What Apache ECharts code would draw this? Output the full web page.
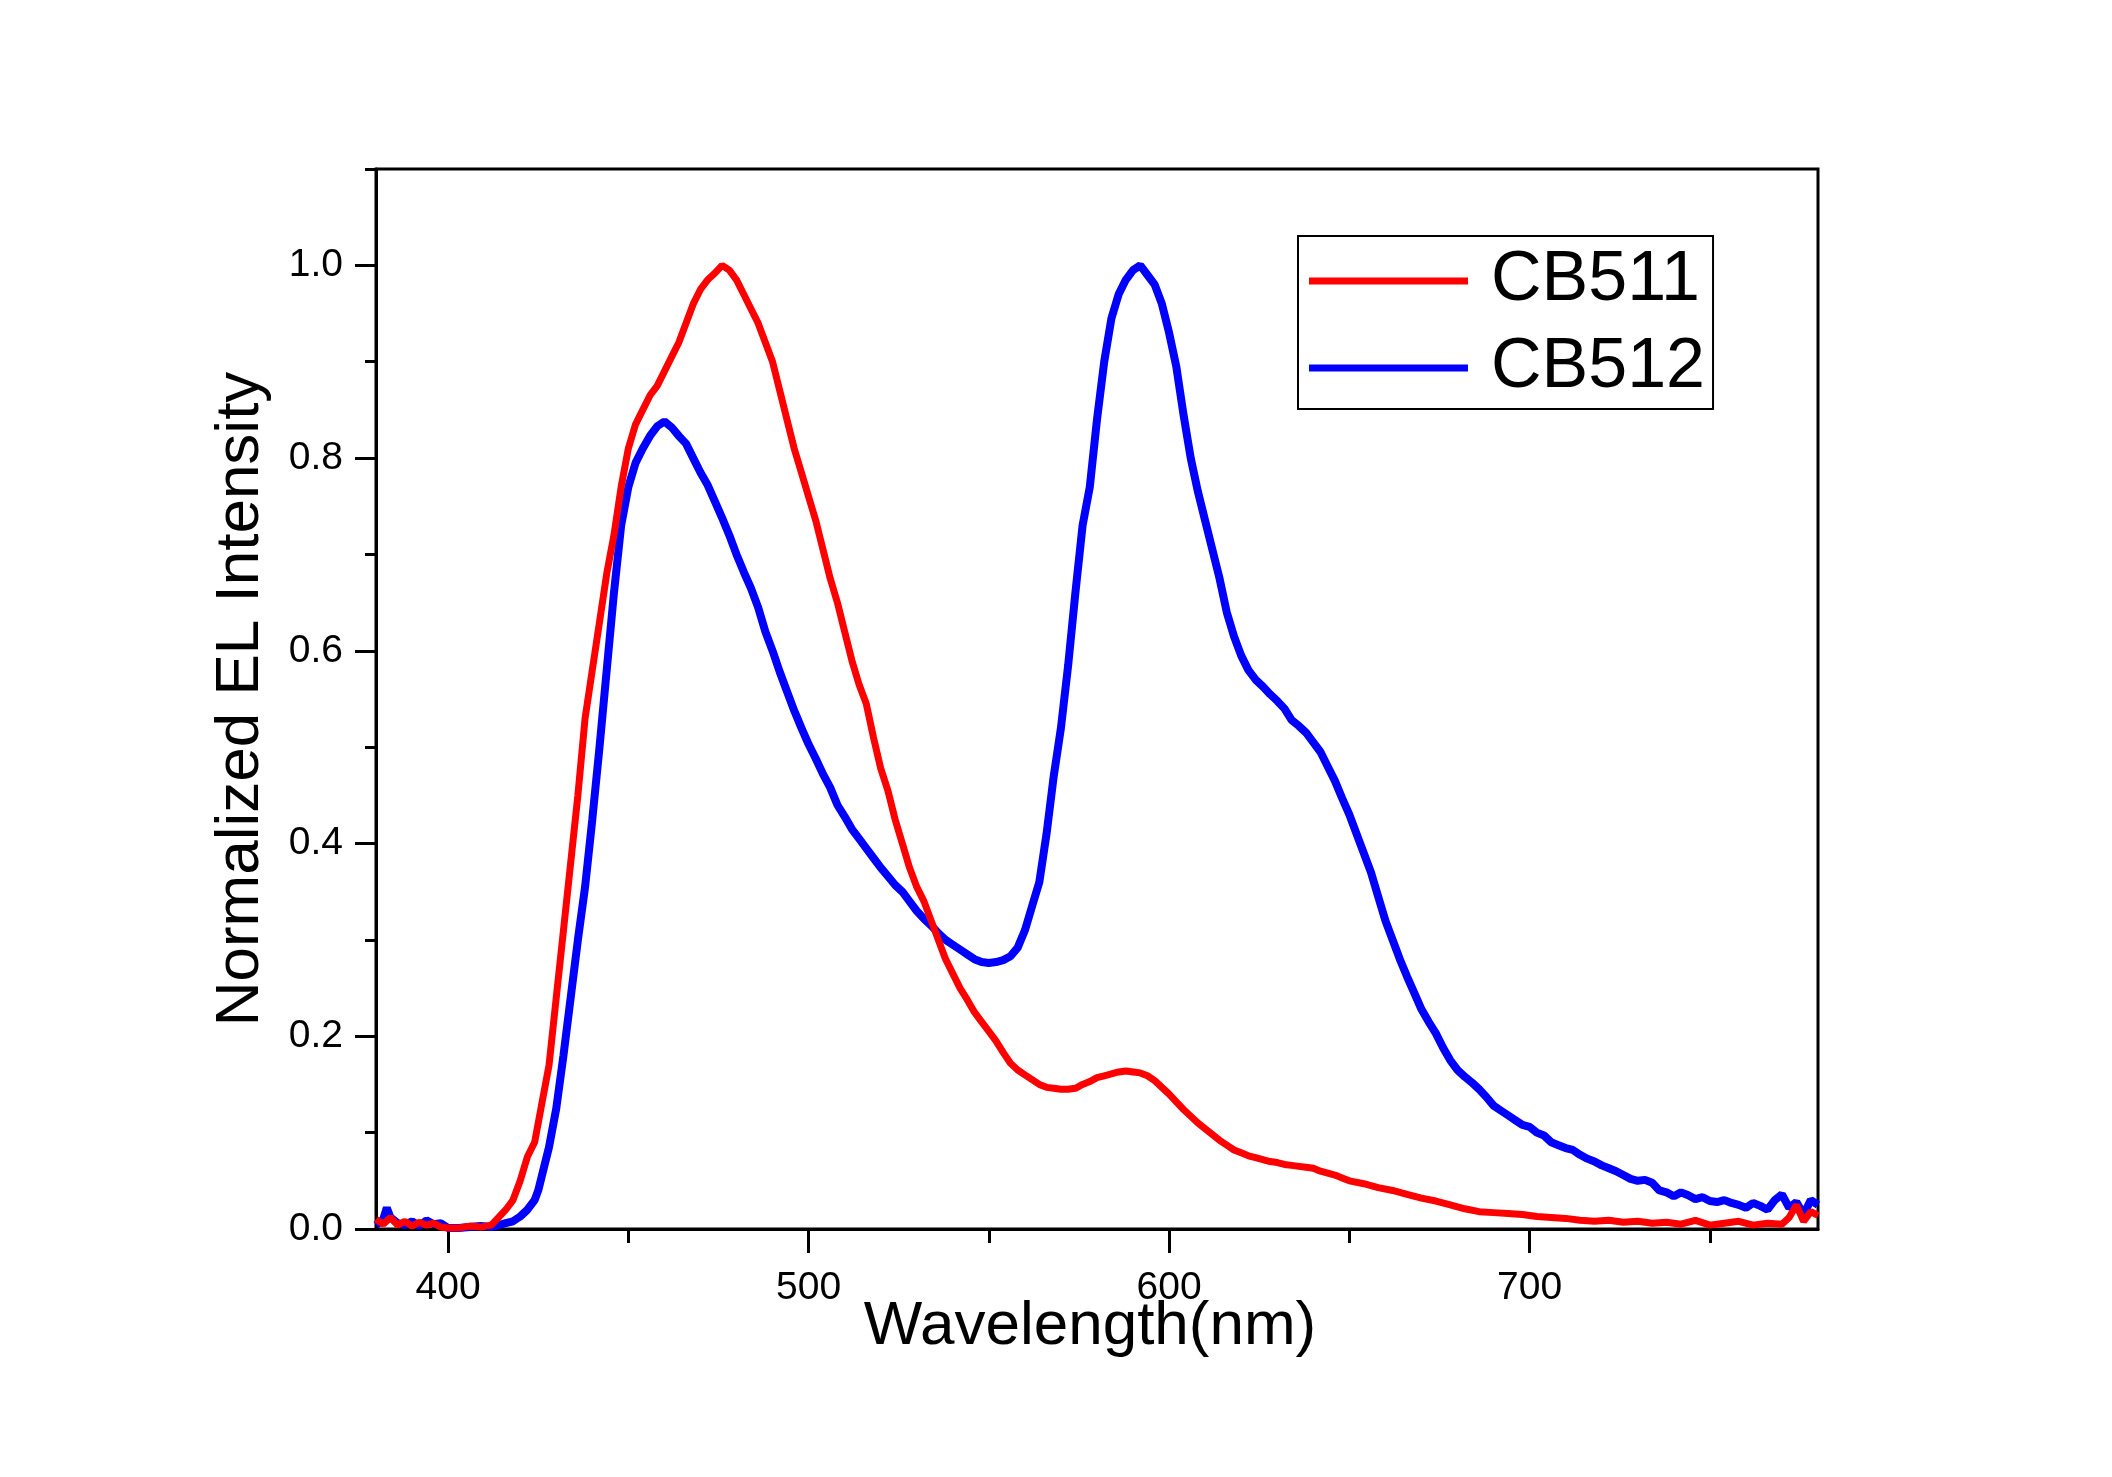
<!DOCTYPE html>
<html>
<head>
<meta charset="utf-8">
<script src="https://cdn.jsdelivr.net/npm/echarts@6/dist/echarts.min.js"></script>
<style>html,body{margin:0;padding:0;background:#fff;}#c{width:2112px;height:1477px;}</style>
</head>
<body>
<div id="c"></div>
<script>
const xTickLabels = [400, 500, 600, 700];
const xMinorTicks = [450, 550, 650, 750];
const yTickLabels = [0, 0.2, 0.4, 0.6, 0.8, 1.0];
const yMinorTicks = [0.1, 0.3, 0.5, 0.7, 0.9, 1.1];

const cb511X = [380,382,384,386,388,390,392,394,396,398,400,403,406,409,412,414,416,418,420,422,424,426,428,430,432,434,436,438,440,442,444,446,448,450,452,454,456,458,460,462,464,466,468,470,472,474,476,478,480,482,484,486,488,490,492,494,496,498,500,502,504,506,508,510,512,514,516,518,520,522,524,526,528,530,532,534,536,538,540,542,544,546,548,550,552,554,556,558,560,562,564,566,568,570,572,574,576,578,580,582,584,586,588,590,592,594,596,598,600,602,604,606,608,610,612,614,616,618,620,622,624,626,628,630,632,634,636,638,640,642,644,646,648,650,654,658,662,666,670,674,678,682,686,690,694,698,702,706,710,714,718,722,726,730,734,738,742,746,750,754,758,762,766,770,772,774,776,778,780];
const cb511Y = [0.01,0.005,0.012,0.004,0.008,0.003,0.007,0.004,0.006,0.002,0.001,0.001,0.003,0.002,0.004,0.012,0.02,0.03,0.05,0.075,0.09,0.13,0.17,0.24,0.31,0.38,0.45,0.53,0.58,0.63,0.68,0.72,0.77,0.81,0.835,0.85,0.865,0.875,0.89,0.905,0.92,0.94,0.96,0.975,0.985,0.992,1.0,0.995,0.985,0.97,0.955,0.94,0.92,0.9,0.87,0.84,0.81,0.785,0.76,0.735,0.705,0.675,0.65,0.62,0.59,0.565,0.545,0.51,0.478,0.455,0.425,0.4,0.375,0.355,0.34,0.32,0.3,0.28,0.265,0.25,0.238,0.225,0.215,0.205,0.195,0.183,0.172,0.165,0.16,0.155,0.15,0.147,0.146,0.145,0.145,0.146,0.15,0.153,0.157,0.159,0.161,0.163,0.164,0.163,0.162,0.159,0.154,0.147,0.14,0.132,0.124,0.117,0.11,0.104,0.098,0.092,0.087,0.082,0.079,0.076,0.074,0.072,0.07,0.069,0.067,0.066,0.065,0.064,0.063,0.06,0.058,0.056,0.053,0.05,0.047,0.043,0.04,0.036,0.032,0.029,0.025,0.021,0.018,0.017,0.016,0.015,0.013,0.012,0.011,0.009,0.008,0.009,0.007,0.008,0.006,0.007,0.005,0.009,0.004,0.006,0.008,0.004,0.006,0.005,0.012,0.025,0.008,0.018,0.014];

const cb512X = [380,382,383,384,386,388,390,392,394,396,398,400,403,406,409,412,414,416,418,420,422,424,425,426,428,430,432,434,436,438,440,442,444,446,448,450,452,454,456,458,460,462,464,466,468,470,472,474,476,478,480,482,484,486,488,490,492,494,496,498,500,502,504,506,508,510,512,514,516,518,520,522,524,526,528,530,532,534,536,538,540,542,544,546,548,550,552,554,556,558,560,562,564,566,568,570,572,574,576,578,580,582,584,586,588,590,592,594,596,598,600,602,604,606,608,610,612,614,616,618,620,622,624,626,628,630,632,634,636,638,640,642,644,646,648,650,652,654,656,658,660,662,664,666,668,670,672,674,676,678,680,682,684,686,688,690,692,694,696,698,700,702,704,706,708,710,712,714,716,718,720,722,724,726,728,730,732,734,736,738,740,742,744,746,748,750,752,754,756,758,760,762,764,766,768,770,772,774,776,778,780];
const cb512Y = [0.004,0.01,0.022,0.012,0.006,0.004,0.008,0.003,0.009,0.005,0.006,0.001,0.001,0.002,0.003,0.002,0.004,0.006,0.008,0.013,0.02,0.03,0.04,0.055,0.085,0.125,0.18,0.24,0.3,0.355,0.425,0.5,0.58,0.66,0.73,0.77,0.795,0.81,0.823,0.833,0.838,0.832,0.823,0.815,0.8,0.785,0.772,0.755,0.738,0.72,0.7,0.682,0.665,0.645,0.62,0.6,0.578,0.558,0.538,0.52,0.503,0.488,0.472,0.458,0.44,0.428,0.415,0.405,0.395,0.385,0.375,0.366,0.357,0.35,0.34,0.33,0.322,0.315,0.307,0.3,0.295,0.29,0.285,0.28,0.277,0.276,0.277,0.279,0.283,0.292,0.31,0.335,0.36,0.41,0.47,0.52,0.585,0.66,0.73,0.77,0.84,0.9,0.945,0.97,0.985,0.995,1.0,0.99,0.98,0.96,0.93,0.895,0.845,0.8,0.765,0.735,0.705,0.675,0.64,0.615,0.595,0.58,0.57,0.563,0.555,0.548,0.54,0.528,0.522,0.515,0.505,0.495,0.48,0.465,0.447,0.43,0.41,0.39,0.37,0.345,0.32,0.3,0.28,0.262,0.245,0.228,0.215,0.203,0.188,0.175,0.165,0.158,0.152,0.145,0.137,0.128,0.123,0.118,0.113,0.108,0.106,0.1,0.097,0.09,0.087,0.084,0.082,0.077,0.073,0.07,0.066,0.063,0.06,0.056,0.052,0.05,0.051,0.048,0.04,0.038,0.034,0.038,0.035,0.031,0.033,0.029,0.028,0.03,0.027,0.025,0.022,0.027,0.024,0.02,0.03,0.036,0.022,0.028,0.015,0.03,0.025];

const FONT = 'Liberation Sans';
const pairs = (xs, ys) => xs.map((x, i) => [x, ys[i]]);

const chart = echarts.init(document.getElementById('c'), null, {renderer: 'canvas'});
chart.setOption({
  backgroundColor: '#ffffff',
  animation: false,
  grid: {left: 376, top: 169, right: 294, bottom: 248, show: true, borderColor: '#000', borderWidth: 3, backgroundColor: 'transparent'},
  legend: {
    data: ['CB511', 'CB512'],
    orient: 'vertical',
    align: 'left',
    left: 1298, top: 236,
    padding: [10, 8, 6, 11],
    borderColor: '#000', borderWidth: 2,
    icon: 'rect', itemWidth: 159, itemHeight: 7, itemGap: 17, itemTextGap: 24,
    textStyle: {fontFamily: FONT, fontSize: 70, color: '#000', padding: [0, 0, 0, 18]}
  },
  xAxis: [{
    type: 'value', min: 380, max: 780,
    name: 'Wavelength(nm)', nameLocation: 'middle', nameGap: 67, nameMoveOverlap: false,
    nameTextStyle: {fontFamily: FONT, fontSize: 62, color: '#000', padding: [0, 14, 0, 0]},
    axisLine: {show: true, onZero: false, lineStyle: {color: '#000', width: 3}},
    axisTick: {show: true, inside: false, length: 24, customValues: xTickLabels, lineStyle: {color: '#000', width: 3}},
    axisLabel: {show: true, customValues: xTickLabels, margin: 40, fontFamily: FONT, fontSize: 39, color: '#000'},
    splitLine: {show: false}
  }, {
    type: 'value', min: 380, max: 780, position: 'bottom',
    axisLine: {show: false},
    axisTick: {show: true, inside: false, length: 14, customValues: xMinorTicks, lineStyle: {color: '#000', width: 3}},
    axisLabel: {show: false},
    splitLine: {show: false}
  }],
  yAxis: [{
    type: 'value', min: 0, max: 1.1,
    name: 'Normalized EL Intensity', nameLocation: 'middle', nameGap: 104,
    nameTextStyle: {fontFamily: FONT, fontSize: 62, color: '#000'},
    axisLine: {show: true, onZero: false, lineStyle: {color: '#000', width: 3}},
    axisTick: {show: true, inside: false, length: 21, customValues: yTickLabels, lineStyle: {color: '#000', width: 3}},
    axisLabel: {show: true, customValues: yTickLabels, margin: 33, fontFamily: FONT, fontSize: 39, color: '#000', formatter: v => v.toFixed(1)},
    splitLine: {show: false}
  }, {
    type: 'value', min: 0, max: 1.1, position: 'left',
    axisLine: {show: false},
    axisTick: {show: true, inside: false, length: 11, customValues: yMinorTicks, lineStyle: {color: '#000', width: 3}},
    axisLabel: {show: false},
    splitLine: {show: false}
  }],
  series: [{
    name: 'CB512', type: 'line', xAxisIndex: 0, yAxisIndex: 0,
    data: pairs(cb512X, cb512Y), showSymbol: false, symbol: 'none',
    lineStyle: {color: '#0000ff', width: 8}, itemStyle: {color: '#0000ff'}
  }, {
    name: 'CB511', type: 'line', xAxisIndex: 0, yAxisIndex: 0,
    data: pairs(cb511X, cb511Y), showSymbol: false, symbol: 'none',
    lineStyle: {color: '#ff0000', width: 7}, itemStyle: {color: '#ff0000'}
  }]
});
</script>
</body>
</html>
